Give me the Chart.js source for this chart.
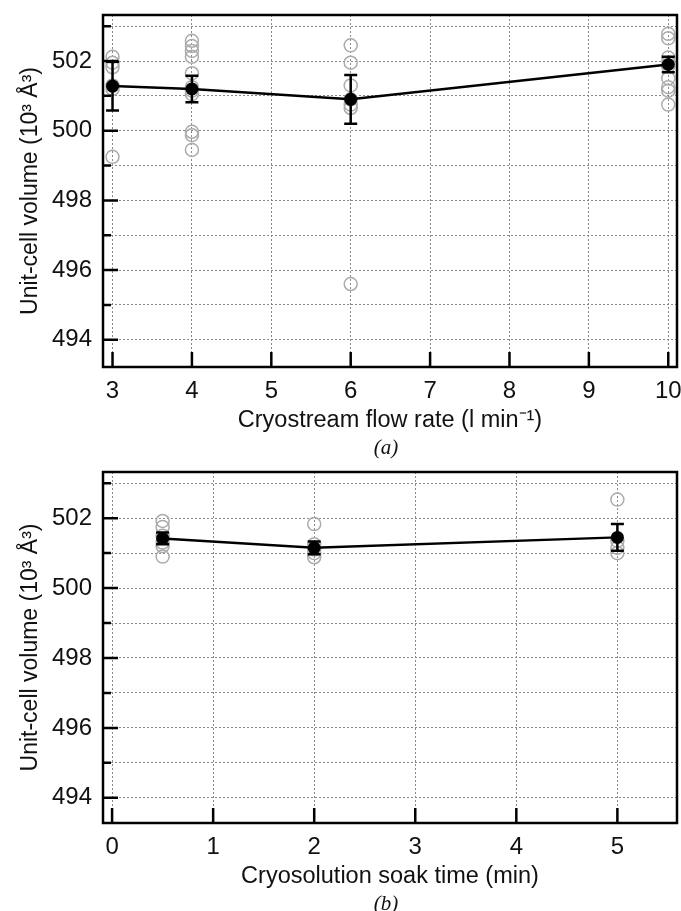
<!DOCTYPE html>
<html>
<head>
<meta charset="utf-8">
<script src="https://cdn.jsdelivr.net/npm/chart.js@4.4.1/dist/chart.umd.min.js"></script>
<style>
  body { margin: 0; background: #fff; }
  #wrap { position: relative; width: 681px; height: 911px; }
  canvas { position: absolute; left: 0; }
  .cap { position: absolute; left: 336px; width: 100px; text-align: center; line-height: 24px;
         font: italic 21px "Liberation Serif", "DejaVu Serif", serif; color: #111; }
</style>
</head>
<body>
<div id="wrap">
  <canvas id="flow" width="681" height="440" style="top:0"></canvas>
  <div class="cap" style="top:435px">(<i>a</i>)</div>
  <canvas id="soak" width="681" height="440" style="top:456px"></canvas>
  <div class="cap" style="top:891px">(<i>b</i>)</div>
</div>
<script>
// (a) cryostream flow rate
const flowRates = [3, 4, 6, 10];
const flowMeans = [501.28, 501.2, 500.9, 501.9];
const flowErrs = [0.7, 0.38, 0.7, 0.22];
const flowRawX = [3, 3, 3, 3, 3, 3,
    4, 4, 4, 4, 4, 4, 4, 4, 4, 4, 4,
    6, 6, 6, 6, 6, 6, 6,
    10, 10, 10, 10, 10, 10, 10, 10, 10];
const flowRawY = [502.12, 501.95, 501.82, 501.3, 501.2, 499.25,
    502.58, 502.43, 502.29, 502.12, 501.65, 501.25, 501.15, 501.05, 499.97, 499.87, 499.45,
    502.45, 501.95, 501.3, 500.9, 500.75, 500.65, 495.6,
    502.78, 502.65, 502.1, 501.95, 501.85, 501.5, 501.25, 501.15, 500.75];
const flowTicks = [3, 4, 5, 6, 7, 8, 9, 10];

// (b) cryosolution soak time
const soakTimes = [0.5, 2, 5];
const soakMeans = [501.42, 501.15, 501.45];
const soakErrs = [0.17, 0.18, 0.38];
const soakRawX = [0.5, 0.5, 0.5, 0.5, 0.5, 0.5, 2, 2, 2, 2, 2, 5, 5, 5, 5];
const soakRawY = [501.92, 501.75, 501.5, 501.3, 501.2, 500.9,
    501.83, 501.25, 501.1, 501.0, 500.88,
    502.53, 501.35, 501.15, 501.0];
const soakTicks = [0, 1, 2, 3, 4, 5];

const volTicks = [494, 495, 496, 497, 498, 499, 500, 501, 502, 503];

const fam = '"Liberation Sans", Arial, sans-serif';

// error bars, inward ticks and the box round the plot
const frameAndBars = {
    id: 'frameAndBars',
    afterDatasetsDraw(chart, args, opts) {
        const {ctx, chartArea: a, scales: {x, y}} = chart;
        ctx.save();
        ctx.strokeStyle = '#000';
        ctx.lineWidth = 2.5;
        opts.xs.forEach((xv, i) => {
            const px = x.getPixelForValue(xv);
            const top = y.getPixelForValue(opts.means[i] + opts.errs[i]);
            const bot = y.getPixelForValue(opts.means[i] - opts.errs[i]);
            ctx.beginPath();
            ctx.moveTo(px, top); ctx.lineTo(px, bot);
            ctx.moveTo(px - 6.5, top); ctx.lineTo(px + 6.5, top);
            ctx.moveTo(px - 6.5, bot); ctx.lineTo(px + 6.5, bot);
            ctx.stroke();
        });

        ctx.beginPath();
        y.ticks.forEach(t => {
            const py = y.getPixelForValue(t.value);
            const len = t.value % 2 === 0 ? 15 : 8;
            ctx.moveTo(a.left, py); ctx.lineTo(a.left + len, py);
        });
        x.ticks.forEach(t => {
            const px = x.getPixelForValue(t.value);
            ctx.moveTo(px, a.bottom); ctx.lineTo(px, a.bottom - 15);
        });
        ctx.stroke();
        ctx.strokeRect(a.left, a.top, a.width, a.height);
        ctx.restore();
    }
};

function makeChart(id, xs, means, errs, rawX, rawY, xMin, xMax, yMin, xTicks, xTitle, padTop) {
    const ctx = document.getElementById(id).getContext('2d');
    return new Chart(ctx, {
        type: 'scatter',
        data: {
            datasets: [{
                data: xs.map((v, i) => ({x: v, y: means[i]})),
                showLine: true,
                borderColor: '#000',
                borderWidth: 2.5,
                backgroundColor: '#000',
                pointRadius: 6.5,
                pointBorderWidth: 0
            }, {
                data: rawX.map((v, i) => ({x: v, y: rawY[i]})),
                borderColor: '#ababab',
                backgroundColor: 'rgba(0,0,0,0)',
                borderWidth: 1.5,
                pointRadius: 6.5
            }]
        },
        options: {
            responsive: false,
            animation: false,
            devicePixelRatio: 1,
            layout: {autoPadding: false, padding: {top: padTop, right: 4, left: 0, bottom: 0}},
            plugins: {
                legend: {display: false},
                tooltip: {enabled: false},
                frameAndBars: {xs: xs, means: means, errs: errs}
            },
            scales: {
                x: {
                    type: 'linear',
                    min: xMin,
                    max: xMax,
                    afterBuildTicks: s => { s.ticks = xTicks.map(v => ({value: v})); },
                    afterFit: s => { s.height = 73; s.paddingLeft = 0; s.paddingRight = 0; },
                    grid: {color: '#8a8a8a', lineWidth: 1, drawTicks: false},
                    border: {display: false, dash: [2, 2]},
                    ticks: {color: '#111', padding: 10, maxRotation: 0, font: {size: 24, family: fam}},
                    title: {display: true, text: xTitle, color: '#111',
                        padding: {top: 0, bottom: 5}, font: {size: 23.5, family: fam}}
                },
                y: {
                    min: yMin,
                    max: 503.32,
                    afterBuildTicks: s => { s.ticks = volTicks.map(v => ({value: v})); },
                    afterFit: s => { s.width = 103; s.paddingTop = 0; s.paddingBottom = 0; },
                    grid: {color: '#8a8a8a', lineWidth: 1, drawTicks: false},
                    border: {display: false, dash: [2, 2]},
                    ticks: {color: '#111', padding: 11, font: {size: 24, family: fam},
                        callback: v => v % 2 === 0 ? v : ''},
                    title: {display: true, text: 'Unit-cell volume (10³ Å³)', color: '#111',
                        padding: {top: 17, bottom: 0}, font: {size: 23, family: fam}}
                }
            }
        },
        plugins: [frameAndBars]
    });
}

makeChart('flow', flowRates, flowMeans, flowErrs, flowRawX, flowRawY,
    2.88, 10.11, 493.22, flowTicks, 'Cryostream flow rate (l min⁻¹)', 15);
makeChart('soak', soakTimes, soakMeans, soakErrs, soakRawX, soakRawY,
    -0.09, 5.59, 493.28, soakTicks, 'Cryosolution soak time (min)', 16);
</script>
</body>
</html>
